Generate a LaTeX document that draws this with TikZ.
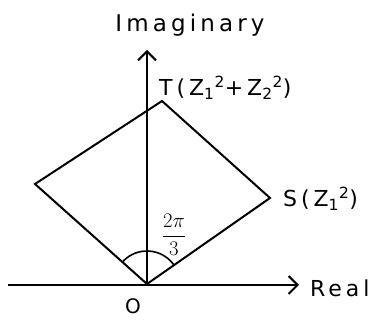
\documentclass[tikz,border=0pt]{standalone}
\usepackage{fontspec}
\usetikzlibrary{arrows.meta}
\newfontfamily\hand[LetterSpace=18]{DejaVu Sans}
\begin{document}
\begin{tikzpicture}[x=1pt,y=-1pt,
  ln/.style={line width=2pt,line join=miter},
  axis/.style={line width=2pt,-{Straight Barb[length=9pt,width=18pt,line width=2pt]}},
  lbl/.style={inner sep=0pt,font=\hand\fontsize{22}{26}\selectfont}]
\useasboundingbox (0,0) rectangle (384,320);
\coordinate (O) at (147,284);
\coordinate (S) at (270,198);
\coordinate (T) at (162,101);
\coordinate (L) at (35,184);
\coordinate (xl) at (8,285);
\coordinate (xr) at (299,285);
\coordinate (yt) at (147,50);
\draw[axis] (xl) -- (xr);
\draw[axis] (O) -- (yt);
\draw[ln] (O) -- (S) -- (T) -- (L) -- cycle;
\draw[line width=1.6pt] (O) ++(-35:33) arc[start angle=-35,end angle=-138,radius=33];
\node[lbl,font=\hand\fontsize{23}{26}\selectfont] (im) at (190,25) {Imaginary};
\node[lbl,anchor=west] (tl) at (159,88) {T(Z\textsubscript{1}\textsuperscript{2}+Z\textsubscript{2}\textsuperscript{2})};
\node[lbl,anchor=west] (sl) at (283,199) {S(Z\textsubscript{1}\textsuperscript{2})};
\node[lbl,anchor=west] (rl) at (310,288) {Real};
\node[lbl,font=\hand\fontsize{20}{24}\selectfont] (ol) at (133,306) {O};
\node[inner sep=0pt,font=\fontsize{20}{22}\selectfont] (ang) at (174,235) {$\displaystyle\frac{2\pi}{3}$};
\end{tikzpicture}
\end{document}
